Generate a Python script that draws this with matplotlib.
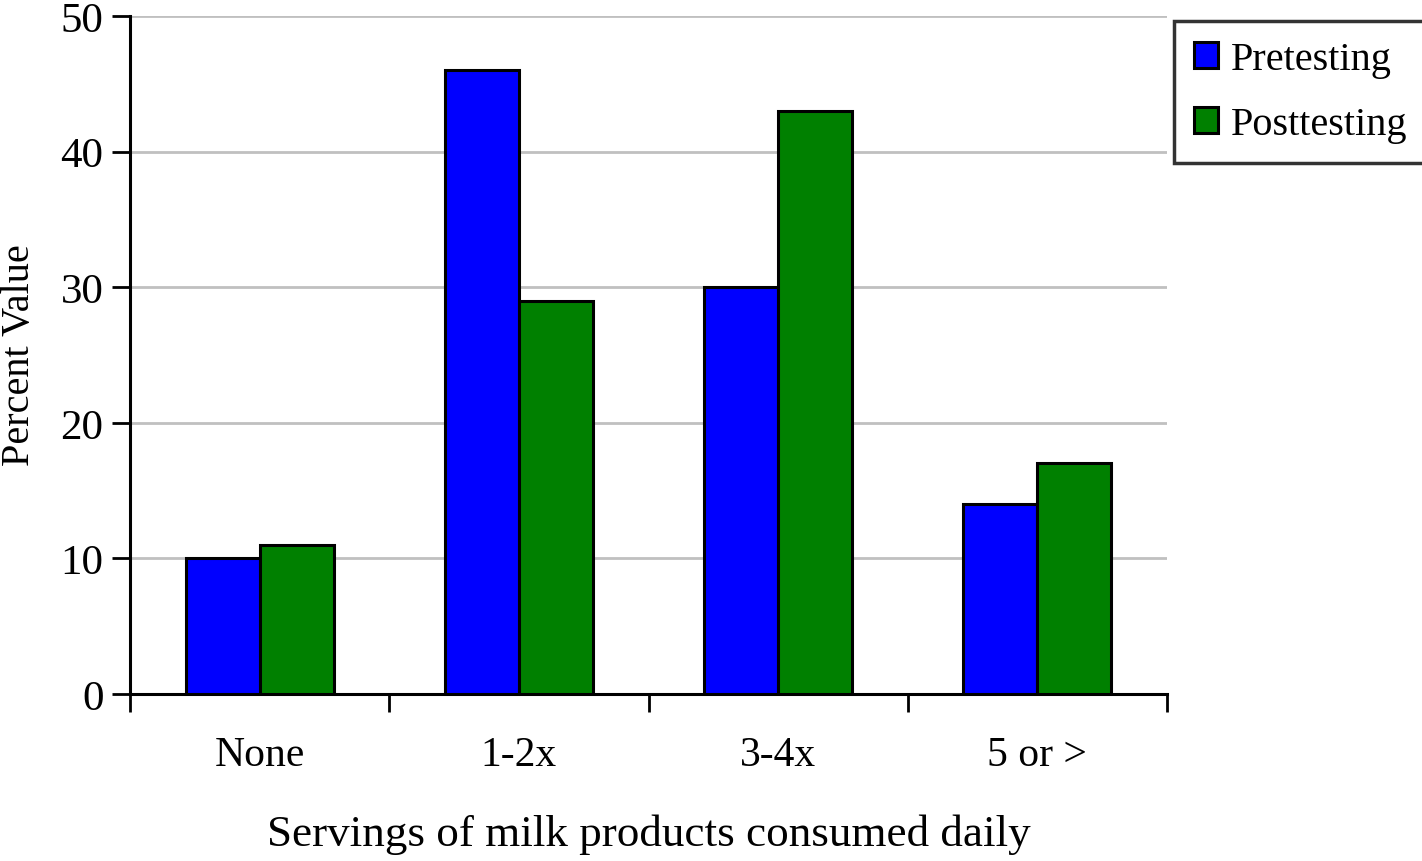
import matplotlib
matplotlib.use("Agg")
import matplotlib.pyplot as plt
import numpy as np

categories = ["None", "1-2x", "3-4x", "5 or >"]
pretesting = [10, 46, 30, 14]
posttesting = [11, 29, 43, 17]
yticks = [0, 10, 20, 30, 40, 50]

plt.rcParams["font.family"] = ["Liberation Serif", "DejaVu Serif"]

fig = plt.figure(figsize=(14.22, 8.62), dpi=100)
ax = fig.add_axes([130 / 1422, 1 - 695 / 862, (1167 - 130) / 1422, (695 - 17) / 862])

x = np.arange(len(categories))
w = 1 / 3.5
ax.bar(x - w / 2, pretesting, w, color="#0000ff", edgecolor="black", linewidth=2.2,
       label="Pretesting", zorder=3)
ax.bar(x + w / 2, posttesting, w, color="#008000", edgecolor="black", linewidth=2.2,
       label="Posttesting", zorder=3)

ax.set_xlim(-0.5, len(categories) - 0.5)
ax.set_ylim(0, 50)
ax.set_yticks(yticks)
ax.set_yticklabels([str(t) for t in yticks], fontsize=31)
ax.yaxis.grid(True, color="#c0c0c0", linewidth=2, zorder=0)
ax.set_axisbelow(True)

# category labels centred, ticks at group boundaries
ax.set_xticks(np.arange(len(categories) + 1) - 0.5)
ax.set_xticklabels([])
ax.set_xticks(x, minor=True)
ax.set_xticklabels(categories, minor=True, fontsize=30)
ax.tick_params(axis="x", which="minor", length=0, pad=30)
ax.tick_params(axis="x", which="major", length=13, width=2, direction="out")
ax.tick_params(axis="y", length=13, width=2, direction="out", pad=6)

for s in ["top", "right"]:
    ax.spines[s].set_visible(False)
for s in ["left", "bottom"]:
    ax.spines[s].set_linewidth(2.2)

fig.text(20 / 1422, 1 - 355 / 862, "Percent Value", fontsize=29, rotation=90,
         ha="center", va="center")
fig.text((130 + 1167) / 2 / 1422, 1 - 835 / 862, "Servings of milk products consumed daily",
         fontsize=32.5, ha="center", va="center")

leg = ax.legend(loc="upper left", bbox_to_anchor=(1174 / 1422, 1 - 22 / 862),
                bbox_transform=fig.transFigure, fontsize=29, frameon=True,
                fancybox=False, edgecolor="black", handlelength=0.6, handleheight=0.6,
                handletextpad=0.3, borderpad=0.5, labelspacing=0.7, borderaxespad=0)
leg.get_frame().set_linewidth(2.5)

fig.savefig("out.png", dpi=100)
